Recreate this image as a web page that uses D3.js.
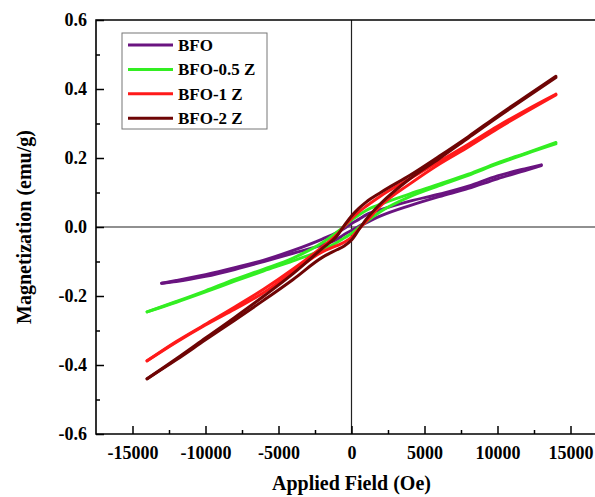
<!DOCTYPE html>
<html>
<head>
<meta charset="utf-8">
<script src="https://cdn.jsdelivr.net/npm/d3@7"></script>
<style>
  body { margin: 0; background: #fff; }
  svg { display: block; }
  text { font-family: "Liberation Serif", "Times New Roman", serif; font-weight: bold; }
</style>
</head>
<body>
<div id="root"></div>
<script>
// field values (Oe), ascending
const fieldGrid = [-14000, -12000, -10000, -8000, -6000, -4000, -2000, -1000, -500, 0, 500, 1000, 2000, 4000, 6000, 8000, 10000, 12000, 14000]
const fieldGridBFO = [-13000, -12000, -10000, -8000, -6000, -4000, -2000, -1000, -500, 0, 500, 1000, 2000, 4000, 6000, 8000, 10000, 12000, 13000]

// magnetization (emu/g): "up" = descending-field branch, "low" = ascending-field branch
const bfoUp = [-0.163, -0.155, -0.138, -0.118, -0.096, -0.068, -0.035, -0.016, -0.004, 0.01, 0.022, 0.035, 0.05, 0.075, 0.095, 0.118, 0.148, 0.17, 0.18]
const bfoLow = [-0.163, -0.158, -0.143, -0.123, -0.1, -0.076, -0.052, -0.036, -0.022, -0.01, 0.002, 0.012, 0.032, 0.062, 0.088, 0.112, 0.14, 0.165, 0.178]

const z05Up = [-0.246, -0.216, -0.185, -0.152, -0.122, -0.09, -0.046, -0.015, 0.002, 0.02, 0.035, 0.048, 0.066, 0.096, 0.124, 0.153, 0.186, 0.215, 0.245]
const z05Low = [-0.246, -0.218, -0.188, -0.157, -0.127, -0.098, -0.066, -0.045, -0.032, -0.019, -0.002, 0.015, 0.045, 0.088, 0.12, 0.15, 0.183, 0.213, 0.241]

const z1Up = [-0.388, -0.332, -0.282, -0.232, -0.18, -0.122, -0.058, -0.022, 0.002, 0.025, 0.044, 0.06, 0.09, 0.14, 0.19, 0.24, 0.292, 0.34, 0.385]
const z1Low = [-0.388, -0.334, -0.284, -0.238, -0.19, -0.13, -0.072, -0.054, -0.044, -0.03, -0.006, 0.016, 0.062, 0.125, 0.182, 0.232, 0.285, 0.335, 0.383]

const z2Up = [-0.44, -0.382, -0.322, -0.262, -0.2, -0.135, -0.062, -0.026, 0.004, 0.032, 0.054, 0.072, 0.1, 0.15, 0.205, 0.262, 0.322, 0.38, 0.437]
const z2Low = [-0.44, -0.385, -0.327, -0.27, -0.212, -0.152, -0.088, -0.066, -0.055, -0.038, -0.008, 0.022, 0.068, 0.14, 0.198, 0.258, 0.318, 0.376, 0.433]

const seriesNames = ["BFO", "BFO-0.5 Z", "BFO-1 Z", "BFO-2 Z"]
const seriesColors = ["#6a1480", "#33ee22", "#ff1a1a", "#6e0505"]

const xMajor = [-15000, -10000, -5000, 0, 5000, 10000, 15000]
const xMinor = [-12500, -7500, -2500, 2500, 7500, 12500]
const yMajor = [-0.6, -0.4, -0.2, 0.0, 0.2, 0.4, 0.6]
const yMinor = [-0.5, -0.3, -0.1, 0.1, 0.3, 0.5]

const series = [
    { name: seriesNames[0], color: seriesColors[0], field: fieldGridBFO, up: bfoUp, low: bfoLow },
    { name: seriesNames[1], color: seriesColors[1], field: fieldGrid, up: z05Up, low: z05Low },
    { name: seriesNames[2], color: seriesColors[2], field: fieldGrid, up: z1Up, low: z1Low },
    { name: seriesNames[3], color: seriesColors[3], field: fieldGrid, up: z2Up, low: z2Low },
]

const w = 595
const h = 497
const plotLeft = 96, plotTop = 20, plotBottom = 434

const x = d3.scaleLinear().domain([-17500, 17500]).range([plotLeft, 607])
const y = d3.scaleLinear().domain([-0.6, 0.6]).range([plotBottom, plotTop])

const svg = d3.select("#root")
    .append("svg")
    .attr("width", w)
    .attr("height", h)

// zero cross lines
svg.append("line")
    .attr("x1", x(0)).attr("x2", x(0))
    .attr("y1", plotTop).attr("y2", plotBottom)
    .attr("stroke", "#222").attr("stroke-width", 1.2)
svg.append("line")
    .attr("x1", plotLeft).attr("x2", w)
    .attr("y1", y(0)).attr("y2", y(0))
    .attr("stroke", "#222").attr("stroke-width", 1.2)

// curves
const line = d3.line()
    .x(d => x(d[0]))
    .y(d => y(d[1]))
    .curve(d3.curveMonotoneX)

series.forEach(s => {
    const g = svg.append("g")
    ;[s.up, s.low].forEach(branch => {
        g.append("path")
            .datum(s.field.map((f, i) => [f, branch[i]]))
            .attr("fill", "none")
            .attr("stroke", s.color)
            .attr("stroke-width", 3)
            .attr("stroke-linecap", "round")
            .attr("d", line)
    })
})

// axes, ticks pointing inward
const xAxis = svg.append("g")
    .attr("transform", `translate(0,${plotBottom})`)
    .call(d3.axisBottom(x).tickValues(xMajor).tickSize(-8).tickPadding(12).tickFormat(d => String(d)))
xAxis.select(".domain").remove()
xAxis.selectAll("text").attr("font-size", 18).attr("fill", "#000")
xAxis.selectAll("line").attr("stroke-width", 1.5)
svg.append("g")
    .attr("transform", `translate(0,${plotBottom})`)
    .call(d3.axisBottom(x).tickValues(xMinor).tickSize(-4).tickFormat(""))
    .call(g => g.select(".domain").remove())
    .selectAll("line").attr("stroke-width", 1.5)

const yAxis = svg.append("g")
    .attr("transform", `translate(${plotLeft},0)`)
    .call(d3.axisLeft(y).tickValues(yMajor).tickSize(-8).tickPadding(9).tickFormat(d => d.toFixed(1)))
yAxis.select(".domain").remove()
yAxis.selectAll("text").attr("font-size", 18).attr("fill", "#000")
yAxis.selectAll("line").attr("stroke-width", 1.5)
svg.append("g")
    .attr("transform", `translate(${plotLeft},0)`)
    .call(d3.axisLeft(y).tickValues(yMinor).tickSize(-4).tickFormat(""))
    .call(g => g.select(".domain").remove())
    .selectAll("line").attr("stroke-width", 1.5)

// frame (right side runs off the picture)
svg.append("path")
    .attr("d", `M${w},${plotTop}H${plotLeft}V${plotBottom}H${w}`)
    .attr("fill", "none")
    .attr("stroke", "#000")
    .attr("stroke-width", 1.6)

// legend
const lg = svg.append("g")
lg.append("rect")
    .attr("x", 122).attr("y", 33)
    .attr("width", 145).attr("height", 96)
    .attr("fill", "#fff")
    .attr("stroke", "#777").attr("stroke-width", 1)
series.forEach((s, i) => {
    const ry = 45 + i * 24.4
    lg.append("line")
        .attr("x1", 128).attr("x2", 173)
        .attr("y1", ry).attr("y2", ry)
        .attr("stroke", s.color).attr("stroke-width", 3)
    lg.append("text")
        .attr("x", 178).attr("y", ry)
        .attr("dy", "0.35em")
        .attr("font-size", 17)
        .text(s.name)
})

// axis titles
svg.append("text")
    .attr("x", x(0)).attr("y", 490)
    .attr("text-anchor", "middle")
    .attr("font-size", 20)
    .text("Applied Field (Oe)")
svg.append("text")
    .attr("transform", `translate(31,${(plotTop + plotBottom) / 2}) rotate(-90)`)
    .attr("text-anchor", "middle")
    .attr("font-size", 20)
    .text("Magnetization (emu/g)")
</script>
</body>
</html>
